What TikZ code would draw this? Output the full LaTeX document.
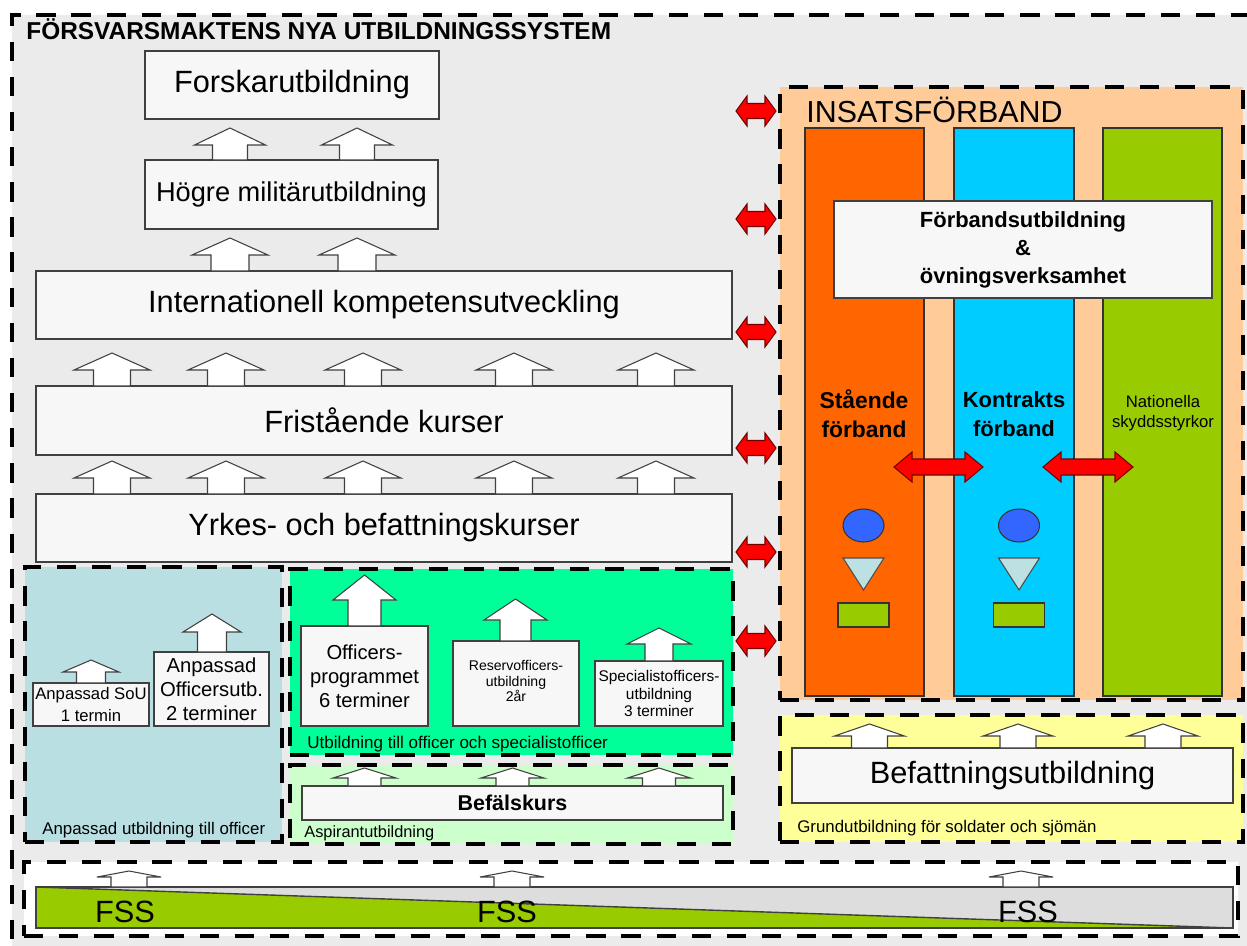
\documentclass[tikz,border=0pt]{standalone}
\usepackage{fontspec}
\setmainfont{Liberation Sans}
\usepackage{xcolor}
\usetikzlibrary{fit,shapes}

\definecolor{bggray}{HTML}{EBEBEB}
\definecolor{boxfill}{HTML}{F7F7F7}
\definecolor{boxline}{HTML}{404040}
\definecolor{insats}{HTML}{FFCC99}
\definecolor{staende}{HTML}{FF6600}
\definecolor{kontrakt}{HTML}{00CCFF}
\definecolor{natgreen}{HTML}{99CC00}
\definecolor{anpassad}{HTML}{B9DFE3}
\definecolor{offgreen}{HTML}{00FF99}
\definecolor{aspirant}{HTML}{CCFFCC}
\definecolor{grund}{HTML}{FFFF99}
\definecolor{unitblue}{HTML}{3366FF}
\definecolor{unittri}{HTML}{BDE0E3}
\definecolor{fssgray}{HTML}{DDDDDD}

\newcommand{\fsz}[2]{\fontsize{#1}{#2}\selectfont}
% block arrow pointing up: base point, shaft width, head width, shaft height, head height
\newcommand{\blockup}[5]{\draw[blockarrow,shift={#1}] (-#2/2,0) -- (-#2/2,-#4) -- (-#3/2,-#4) -- (0,-#4-#5) -- (#3/2,-#4) -- (#2/2,-#4) -- (#2/2,0) -- cycle;}
% red double arrow: left tip, length, height, shaft height, head length
\newcommand{\redboth}[5]{\draw[redarrow,shift={#1}] (0,0) -- (#5,-#3/2) -- (#5,-#4/2) -- (#2-#5,-#4/2) -- (#2-#5,-#3/2) -- (#2,0) -- (#2-#5,#3/2) -- (#2-#5,#4/2) -- (#5,#4/2) -- (#5,#3/2) -- cycle;}

\begin{document}
\begin{tikzpicture}[x=0.02cm,y=-0.02cm]
\tikzstyle{dashbox}=[draw=black,line width=2.6pt,dash pattern=on 11pt off 9pt,inner sep=0pt]
\tikzstyle{box}=[draw=boxline,fill=boxfill,line width=0.6pt,inner sep=0pt]
\tikzstyle{boxtext}=[align=center,inner sep=0pt]
\tikzstyle{blockarrow}=[draw=boxline,fill=white,line width=0.6pt]
\tikzstyle{redarrow}=[draw=red!45!black,fill=red,line width=0.6pt]
\tikzstyle{column}=[draw=black!80,line width=0.8pt,inner sep=0pt]
\tikzstyle{paneltext}=[anchor=base west,inner sep=0pt]

\useasboundingbox (0,0) rectangle (1247,946);
\clip (0,0) rectangle (1247,946);

%% Outer frame
\node[dashbox,fill=bggray,fit={(12,15) (1254,948)}] (system) {};
\node[paneltext,font=\bfseries\fsz{13.9}{16}] (title) at (26,40) {FÖRSVARSMAKTENS NYA UTBILDNINGSSYSTEM};

%% Panels
\node[dashbox,fill=insats,fit={(780,87) (1243,700)}] (insats) {};
\node[dashbox,fill=grund,fit={(780,715) (1243,842)}] (grund) {};
\node[dashbox,fill=anpassad,fit={(25,567) (282,842)}] (anpassad) {};
\node[dashbox,fill=offgreen,fit={(290,569) (733,755)}] (officer) {};
\node[dashbox,fill=aspirant,fit={(290,765) (733,844)}] (aspirant) {};
\node[dashbox,fill=white,fit={(24,862) (1238,936)}] (fss) {};

%% Left column
\node[box,fit={(145,51) (439,119)}] (forskar) {};
\node[box,fit={(145,160) (438,229)}] (hogre) {};
\node[box,fit={(36,271) (732,339)}] (intl) {};
\node[box,fit={(36,386) (732,455)}] (frist) {};
\node[box,fit={(36,494) (732,562)}] (yrkes) {};
\node[boxtext,font=\fsz{17.5}{20}] (forskartext) at (forskar) {Forskarutbildning};
\node[boxtext,font=\fsz{15.5}{18}] (hogretext) at (hogre) {Högre militärutbildning};
\node[boxtext,font=\fsz{17.5}{20}] (intltext) at (intl) {Internationell kompetensutveckling};
\node[boxtext,font=\fsz{17.5}{20}] (fristtext) at (frist) {Fristående kurser};
\node[boxtext,font=\fsz{17.5}{20}] (yrkestext) at (yrkes) {Yrkes- och befattningskurser};

\foreach \x in {230,357} {\blockup{(\x,160)}{35}{71}{15}{17}}
\foreach \x in {230,357} {\blockup{(\x,271)}{38}{76}{16}{17}}
\foreach \x in {112,226,363,514,656} {\blockup{(\x,386)}{37}{76}{16}{17}}
\foreach \x in {112,226,363,514,656} {\blockup{(\x,494)}{37}{76}{16}{17}}

%% Anpassad utbildning
\node[box,fit={(33,683) (149,726)}] (sou) {};
\node[box,fit={(154,652) (269,726)}] (offutb) {};
\node[boxtext,font=\fsz{9.5}{12}] (soutext) at (sou) {Anpassad SoU\\1 termin};
\node[boxtext,font=\fsz{11.5}{13.6}] (offutbtext) at (offutb) {Anpassad\\Officersutb.\\2 terminer};
\blockup{(91,683)}{29}{56}{11}{12}
\blockup{(212,652)}{29}{58}{20}{18}
\node[paneltext,font=\fsz{9.6}{11}] (anpassadtext) at (42,834) {Anpassad utbildning till officer};

%% Officer och specialistofficer
\node[box,fit={(301,626) (428,726)}] (offprog) {};
\node[box,fit={(453,641) (579,726)}] (reserv) {};
\node[box,fit={(595,661) (723,726)}] (special) {};
\node[boxtext,font=\fsz{11.5}{13.6}] (offprogtext) at (offprog) {Officers-\\programmet\\6 terminer};
\node[boxtext,font=\fsz{8}{8.6}] (reservtext) at ([yshift=0.05cm]reserv.center) {Reservofficers-\\utbildning\\2år};
\node[boxtext,font=\fsz{8.8}{10.2}] (specialtext) at (special) {Specialistofficers-\\utbildning\\3 terminer};
\blockup{(364.5,626)}{33}{63}{26}{25}
\blockup{(515.5,641)}{31}{63}{21}{21}
\blockup{(659,661)}{28}{64}{17}{16}
\node[paneltext,font=\fsz{9.7}{11}] (officertext) at (307,748) {Utbildning till officer och specialistofficer};

%% Aspirantutbildning
\node[box,fit={(302,786) (723,820)}] (befal) {};
\node[boxtext,font=\bfseries\fsz{12.2}{14}] (befaltext) at (befal) {Befälskurs};
\foreach \x in {364.5,512.5,659} {\blockup{(\x,786)}{33}{63}{8}{10}}
\node[paneltext,font=\fsz{9.3}{11}] (aspiranttext) at (304,837) {Aspirantutbildning};

%% Insatsforband
\node[paneltext,font=\fsz{17.3}{20}] (insatstitle) at (806,122) {INSATSFÖRBAND};
\node[column,fill=staende,fit={(805,128) (924,696)}] (staende) {};
\node[column,fill=kontrakt,fit={(954,128) (1074,696)}] (kontrakt) {};
\node[column,fill=natgreen,fit={(1103,128) (1222,696)}] (nationella) {};
\node[box,fit={(834,201) (1212,298)}] (forband) {};
\node[boxtext,font=\bfseries\fsz{12.5}{15.9}] (forbandtext) at (forband) {Förbandsutbildning\\\&\\övningsverksamhet};

\node[boxtext,font=\bfseries\fsz{13}{16.4}] (staendetext) at (864,414) {Stående\\förband};
\node[boxtext,font=\bfseries\fsz{12.5}{16.4}] (kontrakttext) at (1014,414) {Kontrakts\\förband};
\node[boxtext,font=\fsz{9.5}{11.3}] (nattext) at (1163,413) {Nationella\\skyddsstyrkor};

\redboth{(894,467)}{89}{30}{16}{18}
\redboth{(1043,467)}{90}{30}{16}{18}

\foreach \cx in {863.5,1019} {
  \draw[draw=black!80,fill=unitblue,line width=0.6pt] (\cx,525.5) ellipse [x radius=0.41cm, y radius=0.33cm];
  \draw[draw=black!70,fill=unittri,line width=0.6pt] (\cx-20.5,558) -- (\cx+20.5,558) -- (\cx,590) -- cycle;
  \draw[draw=black!80,fill=natgreen,line width=0.6pt] (\cx-25.5,603) rectangle (\cx+25.5,627);
}

%% Grundutbildning
\node[box,fit={(792,748) (1233,803)}] (befattn) {};
\node[boxtext,font=\fsz{17.5}{20}] (befattntext) at (befattn) {Befattningsutbildning};
\foreach \x in {869.5,1018,1163} {\blockup{(\x,748)}{36}{70}{12}{12}}
\node[paneltext,font=\fsz{9.6}{11}] (grundtext) at (797,832) {Grundutbildning för soldater och sjömän};

%% Red links to Insatsforband
\foreach \ry in {111,219,332,448,552,641} {\redboth{(736,\ry)}{40}{30}{15}{11}}

%% FSS bar
\fill[fssgray] (36,887) rectangle (1233,928);
\fill[natgreen] (36,887) -- (1233,928) -- (36,928) -- cycle;
\draw[boxline,line width=0.8pt] (36,887) -- (1233,928);
\node[draw=boxline,line width=0.8pt,inner sep=0pt,fit={(36,887) (1233,928)}] (fssbar) {};
\foreach \fx/\nm in {125/fssa,507/fssb,1028/fssc}
  \node[anchor=base,inner sep=0pt,font=\fsz{17.5}{20}] (\nm) at (\fx,922) {FSS};
\foreach \x in {129,512,1021} {\blockup{(\x,887)}{36}{64}{10}{6}}
\end{tikzpicture}
\end{document}
